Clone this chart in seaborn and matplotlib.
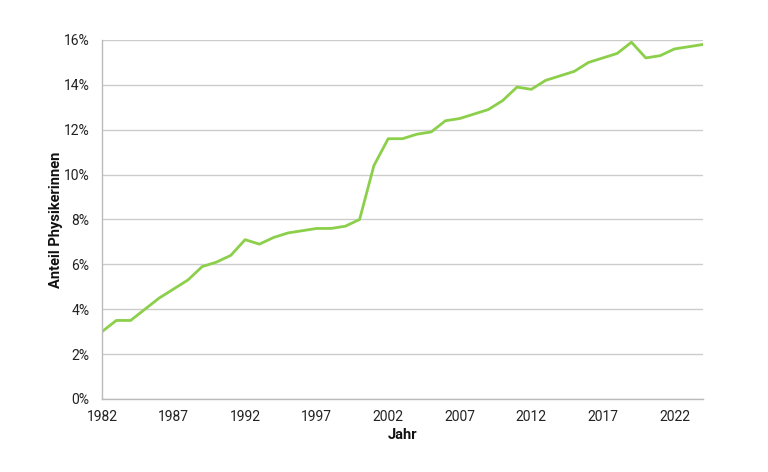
import matplotlib
matplotlib.use("Agg")
import matplotlib.pyplot as plt
import matplotlib.ticker as mticker
import seaborn as sns
import pandas as pd

# Anteil Physikerinnen pro Jahr (in %)
jahre = list(range(1982, 2025))
anteil = [3.0, 3.5, 3.5, 4.0, 4.5, 4.9, 5.3, 5.9, 6.1, 6.4,
          7.1, 6.9, 7.2, 7.4, 7.5, 7.6, 7.6, 7.7, 8.0, 10.4,
          11.6, 11.6, 11.8, 11.9, 12.4, 12.5, 12.7, 12.9, 13.3, 13.9,
          13.8, 14.2, 14.4, 14.6, 15.0, 15.2, 15.4, 15.9, 15.2, 15.3,
          15.6, 15.7, 15.8]
x_ticks = [1982, 1987, 1992, 1997, 2002, 2007, 2012, 2017, 2022]
y_ticks = [0, 2, 4, 6, 8, 10, 12, 14, 16]

df = pd.DataFrame({"Jahr": jahre, "Anteil": anteil})

sns.set_style("white")
plt.rcParams["font.family"] = ["Roboto", "DejaVu Sans"]

fig = plt.figure(figsize=(7.68, 4.72), dpi=100)
ax = fig.add_axes([0.1328, 0.1547, 0.7826, 0.7606])

sns.lineplot(data=df, x="Jahr", y="Anteil", ax=ax, color="#8BCF4A", linewidth=2.0)

ax.set_xlim(1982, 2024)
ax.set_ylim(0, 16)
ax.set_xticks(x_ticks)
ax.xaxis.set_minor_locator(mticker.MultipleLocator(1))
ax.set_yticks(y_ticks)
ax.yaxis.set_major_formatter(mticker.FuncFormatter(lambda v, p: f"{int(v)}%"))
ax.grid(axis="y", color="#cccccc", linewidth=1.0)
ax.set_axisbelow(True)

for s in ["top", "right"]:
    ax.spines[s].set_visible(False)
for s in ["left", "bottom"]:
    ax.spines[s].set_color("#bbbbbb")
    ax.spines[s].set_linewidth(1.0)

ax.tick_params(axis="both", which="both", colors="#bbbbbb", labelcolor="#222222",
               labelsize=10, direction="out")
ax.tick_params(axis="x", which="major", length=5, pad=3)
ax.tick_params(axis="x", which="minor", length=4)
ax.tick_params(axis="y", which="major", length=7, pad=2)

ax.set_xlabel("Jahr", fontsize=10.5, fontweight="bold", color="#111111")
ax.set_ylabel("Anteil Physikerinnen", fontsize=10.5, fontweight="bold", color="#111111")
ax.xaxis.set_label_coords(0.5, -0.081)
ax.yaxis.set_label_coords(-0.065, 0.5)

fig.savefig("out.png", dpi=100)
